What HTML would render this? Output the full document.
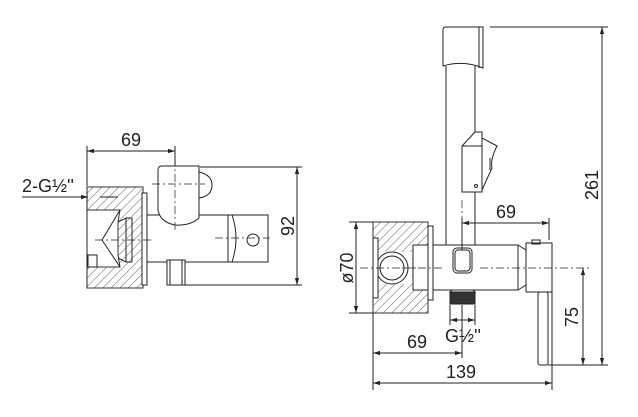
<!DOCTYPE html>
<html><head><meta charset="utf-8"><style>
html,body{margin:0;padding:0;background:#fff;}
svg{display:block;}
text{font-family:"Liberation Sans",sans-serif;fill:#222;font-size:18px;}
</style></head><body>
<svg width="638" height="417" viewBox="0 0 638 417" xmlns="http://www.w3.org/2000/svg">
<defs>
<pattern id="h" width="6" height="6" patternUnits="userSpaceOnUse" patternTransform="rotate(45)">
<line x1="0" y1="0" x2="0" y2="6" stroke="#444" stroke-width="0.9"/>
</pattern>
<marker id="a" viewBox="0 0 10 10" refX="10" refY="5" markerWidth="7" markerHeight="7" orient="auto-start-reverse"><path d="M0,2 L10,5 L0,8 z" fill="#222"/></marker>
</defs>
<g stroke="#222" fill="none" stroke-width="1">
<!-- LEFT VIEW -->
<path d="M87,187 H143 V288 H87 V267 H120 L118,255 V222 L120,210 H87 Z" fill="url(#h)" stroke="#333"/>
<path d="M87,187 V288"/>
<path d="M120,210 L102,240 L120,267" />
<path d="M118,222 L126,218 V262 L118,258"/>
<rect x="126" y="218" width="6" height="44"/>
<rect x="88" y="255" width="9" height="12"/>
<rect x="142" y="193" width="5" height="92" fill="#fff"/>
<path d="M147,215 H228 M147,262 H228"/>
<rect x="228" y="215" width="40" height="47" fill="#fff"/>
<path d="M232,215 Q240,238 232,262"/>
<circle cx="253" cy="240" r="6"/>
<path d="M158,170 Q158,166 162,166 H199 V218 Q190,226 175,225 Q160,222 158,210 Z" fill="#fff"/>
<path d="M199,172 Q212,175 212,185 Q212,196 199,198"/>
<rect x="167" y="260" width="18" height="25" fill="#fff"/>
<path d="M170,260 V285 M182,260 V285"/>
<g stroke-dasharray="8,3,2,3" stroke-width="0.7">
<path d="M95,240 H152 M215,238 H270 M152,184 H205 M175,158 V230"/>
</g>
<!-- left dims -->
<path d="M87,146 V186 M175,146 V166"/>
<path d="M87,151 H175" marker-start="url(#a)" marker-end="url(#a)"/>
<path d="M22,197 H88" marker-end="url(#a)"/>
<path d="M118,197 H100" />
<path d="M200,167 H302 M185,285 H302"/>
<path d="M297,167 V285" marker-start="url(#a)" marker-end="url(#a)"/>

<!-- RIGHT VIEW -->
<path d="M373,222 H428 V313 H373 Z" fill="url(#h)" stroke="#333"/>
<rect x="374" y="252" width="38" height="32" fill="#fff" stroke="none"/>
<circle cx="392" cy="268" r="16" fill="#fff"/>
<circle cx="392" cy="268" r="12"/>
<rect x="373" y="238" width="5" height="60" fill="#fff"/>
<rect x="413" y="245" width="15" height="45" fill="#fff"/>
<rect x="428" y="226" width="5" height="74" fill="#fff"/>
<rect x="433" y="245" width="85" height="45" fill="#fff"/>
<rect x="453" y="248" width="19" height="25" rx="4"/>
<rect x="455" y="250" width="15" height="21" rx="3"/>
<path d="M518,245 L526,250 V285 L518,290"/>
<rect x="526" y="243" width="26" height="49" fill="#fff"/>
<rect x="532" y="240" width="8" height="4"/>
<rect x="538" y="292" width="10" height="73" rx="2" fill="#fff"/>
<rect x="450" y="292" width="25" height="12" fill="#333"/>
<path d="M452,290 H473 L475,292 H450 Z"/>
<!-- pipe -->
<path d="M446,66 V245 M475,66 V132 M475,192 V245"/>
<path d="M443,30 Q443,27 446,27 H483 V68 Q463,60 443,66 Z" fill="#fff"/>
<path d="M479,27 V68"/>
<path d="M462,146 L475,132 H482 V138 L497,146 Q490,160 492,168 L482,190 V192 H462 Z" fill="#fff"/>
<path d="M482,138 V190 M462,146 H482 M490,158 V170"/>
<circle cx="476" cy="186" r="1.5"/>
<g stroke-dasharray="8,3,2,3" stroke-width="0.7">
<path d="M360,268 H425 M402,268 H445 M480,268 H590 M462,200 V245"/>
</g>
<!-- right dims -->
<path d="M349,222 H373 M349,313 H373"/>
<path d="M356,222 V313" marker-start="url(#a)" marker-end="url(#a)"/>
<path d="M462,218 V250 M549,218 V240"/>
<path d="M462,223 H549" marker-start="url(#a)" marker-end="url(#a)"/>
<path d="M450,305 V325 M475,305 V325"/>
<path d="M450,320 H475" marker-start="url(#a)" marker-end="url(#a)"/>
<path d="M373,313 V390 M552,292 V390 M462,305 V358"/>
<path d="M373,353 H462" marker-start="url(#a)" marker-end="url(#a)"/>
<path d="M373,383 H552" marker-start="url(#a)" marker-end="url(#a)"/>
<path d="M548,365 H608 M490,27 H608"/>
<path d="M583,268 V365" marker-start="url(#a)" marker-end="url(#a)"/>
<path d="M602,27 V365" marker-start="url(#a)" marker-end="url(#a)"/>
</g>
<text x="131" y="146" text-anchor="middle">69</text>
<text x="22" y="192">2-G½''</text>
<text transform="translate(294,226) rotate(-90)" text-anchor="middle">92</text>
<text transform="translate(353,268) rotate(-90)" text-anchor="middle">ø70</text>
<text x="506" y="218" text-anchor="middle">69</text>
<text transform="translate(598,185) rotate(-90)" text-anchor="middle">261</text>
<text transform="translate(578,317) rotate(-90)" text-anchor="middle">75</text>
<text x="463" y="342" text-anchor="middle">G½''</text>
<text x="417" y="348" text-anchor="middle">69</text>
<text x="461" y="378" text-anchor="middle">139</text>
</svg>
</body></html>
